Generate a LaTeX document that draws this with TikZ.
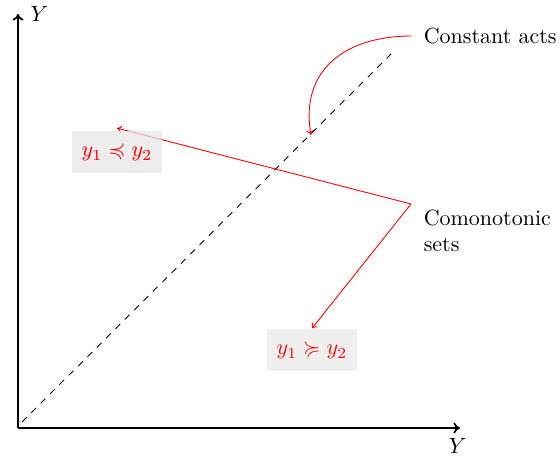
\documentclass[tikz,border=0pt]{standalone}
\usepackage{amsmath,amssymb}
\usetikzlibrary{arrows.meta}
\begin{document}
\begin{tikzpicture}[x=0.4545pt,y=-0.4545pt,
  axis/.style={thick,-{To[length=3pt,width=5pt]}},
  redarrow/.style={red,-{To[length=2.2pt,width=3.5pt]}},
  relbox/.style={fill=gray!15,fill opacity=0.85,text opacity=1,text=red,inner xsep=4.5pt,inner ysep=5.5pt},
  lbl/.style={inner sep=3.33pt}]
\useasboundingbox (0,0) rectangle (560,458);
\coordinate (o) at (18,428);
\coordinate (ytip) at (18,14);
\coordinate (xtip) at (460,428);
\coordinate (d0) at (22,422);
\coordinate (d1) at (393,52);
\coordinate (hit) at (311,135);
\coordinate (cs) at (411,204);
\draw[dashed] (d0) -- (d1);
\node[lbl,anchor=west] (const) at (416,36) {Constant acts};
\node[lbl,anchor=west,align=left] (como) at (416,231) {Comonotonic\\sets};
\draw[redarrow] ([xshift=-2pt]const.west) to[out=180,in=100,looseness=1.2] (hit);
\node[relbox] (b1) at (117,152) {$y_1 \preccurlyeq y_2$};
\node[relbox] (b2) at (312,350) {$y_1 \succcurlyeq y_2$};
\draw[redarrow] (cs) -- ([yshift=1pt]b1.north);
\draw[redarrow] (cs) -- (b2.north);
\node[relbox,fill opacity=0.7] at (b1) {$y_1 \preccurlyeq y_2$};
\draw[axis] (o) -- (ytip) node[right,xshift=2pt] (ylab) {$Y$};
\draw[axis] (o) -- (xtip) node[below,xshift=-1pt,yshift=-1pt] (xlab) {$Y$};
\end{tikzpicture}
\end{document}
